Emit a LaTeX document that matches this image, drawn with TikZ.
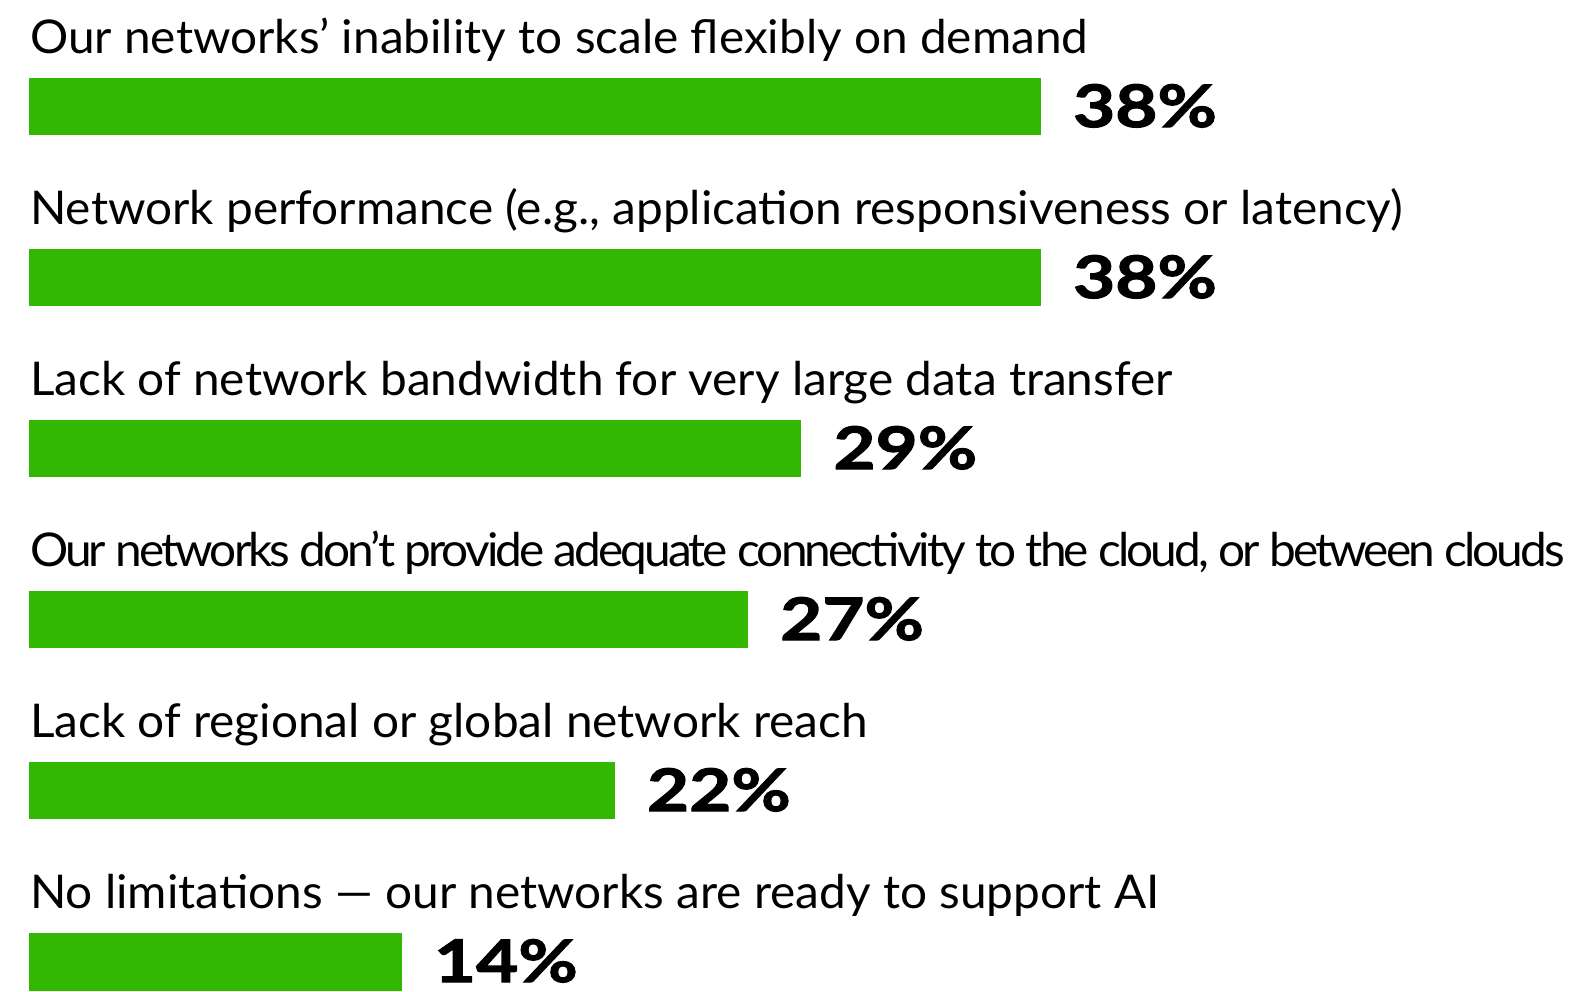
\documentclass[tikz,border=0pt]{standalone}
\usepackage{fontspec}
\setmainfont{Lato}[FakeStretch=1.027]
\newfontfamily\pctfont{Lato}[BoldFeatures={FakeStretch=1.24,FakeBold=2}]
\definecolor{bargreen}{RGB}{50,184,0}
\begin{document}
\begin{tikzpicture}[x=1pt,y=-1pt,
   lab/.style={anchor=base west,inner sep=0pt,font=\fontsize{46.5}{50}\selectfont},
   pct/.style={anchor=base west,inner sep=0pt,font=\fontsize{58.6}{60}\selectfont\pctfont\bfseries}]
   \def\u{26.63}
   \useasboundingbox (0,0) rectangle (1569,991);
   % row 1
   \node[lab] (l1) at (30,53) {Our networks’ inability to scale flexibly on demand};
   \fill[bargreen] (29,77.5) rectangle ({29+38*\u},134.5);
   \node[pct] (p1) at ({29+38*\u+32},127) {38\%};
   % row 2
   \node[lab] (l2) at (30,224) {Network performance (e.g., application responsiveness or latency)};
   \fill[bargreen] (29,248.5) rectangle ({29+38*\u},305.5);
   \node[pct] (p2) at ({29+38*\u+32},298) {38\%};
   % row 3
   \node[lab] (l3) at (30,395) {Lack of network bandwidth for very large data transfer};
   \fill[bargreen] (29,419.5) rectangle ({29+29*\u},476.5);
   \node[pct] (p3) at ({29+29*\u+32},469) {29\%};
   % row 4, set tighter
   \node[lab] (l4) at (30,566) {\addfontfeatures{LetterSpace=-6.3}Our networks don’t provide adequate connectivity to the cloud, or between clouds};
   \fill[bargreen] (29,590.5) rectangle ({29+27*\u},647.5);
   \node[pct] (p4) at ({29+27*\u+32},640) {27\%};
   % row 5
   \node[lab] (l5) at (30,737) {Lack of regional or global network reach};
   \fill[bargreen] (29,761.5) rectangle ({29+22*\u},818.5);
   \node[pct] (p5) at ({29+22*\u+32},811) {22\%};
   % row 6
   \node[lab] (l6) at (30,908) {No limitations — our networks are ready to support AI};
   \fill[bargreen] (29,932.5) rectangle ({29+14*\u},991);
   \node[pct] (p6) at ({29+14*\u+32},982) {14\%};
\end{tikzpicture}
\end{document}
